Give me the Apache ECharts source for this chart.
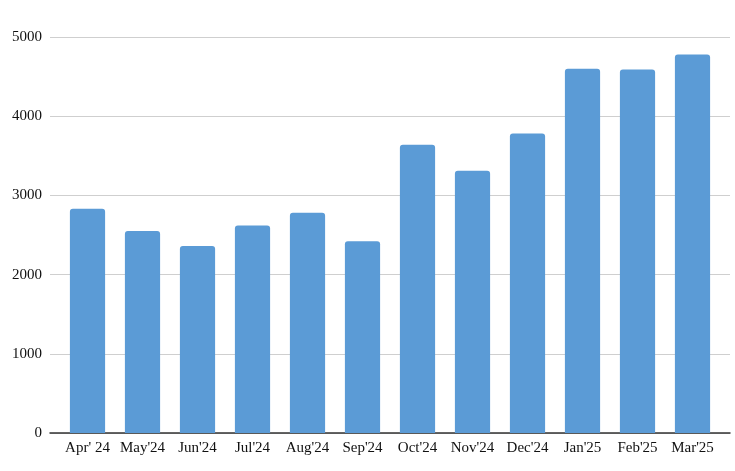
<!DOCTYPE html>
<html>
<head>
<meta charset="utf-8">
<script src="https://cdn.jsdelivr.net/npm/echarts@6/dist/echarts.min.js"></script>
<style>html,body{margin:0;padding:0;background:#fff}#c{width:735px;height:471px}</style>
</head>
<body>
<div id="c"></div>
<script>
const categories = ["Apr' 24","May'24","Jun'24","Jul'24","Aug'24","Sep'24","Oct'24","Nov'24","Dec'24","Jan'25","Feb'25","Mar'25"];
const values = [2830,2550,2360,2620,2780,2420,3640,3310,3780,4600,4590,4780];
const yTicks = [0,1000,2000,3000,4000,5000];

const font = 'Liberation Serif';
const chart = echarts.init(document.getElementById('c'));
chart.setOption({
  animation: false,
  grid: [
    {left: 50, right: 5, top: 37, bottom: 38},
    {left: 60, right: 15, top: 37, bottom: 38}
  ],
  xAxis: [{
    gridIndex: 0,
    type: 'category',
    data: [''],
    axisLine: {lineStyle: {color: '#333', width: 1.5}},
    axisTick: {show: false},
    axisLabel: {show: false},
    splitLine: {show: false}
  }, {
    gridIndex: 1,
    type: 'category',
    data: categories,
    axisLine: {show: false},
    axisTick: {show: false},
    axisLabel: {color: '#111', fontFamily: font, fontSize: 15, margin: 8, interval: 0, hideOverlap: false}
  }],
  yAxis: [{
    gridIndex: 0,
    type: 'value',
    min: yTicks[0],
    max: yTicks[yTicks.length-1],
    interval: 1000,
    axisLine: {show: false},
    axisTick: {show: false},
    axisLabel: {color: '#111', fontFamily: font, fontSize: 15, margin: 8, formatter: v => String(v)},
    splitLine: {lineStyle: {color: '#cfcfcf', width: 1}}
  }, {
    gridIndex: 1,
    type: 'value',
    min: yTicks[0],
    max: yTicks[yTicks.length-1],
    interval: 1000,
    show: false,
    splitLine: {show: false}
  }],
  series: [{
    type: 'bar',
    xAxisIndex: 1,
    yAxisIndex: 1,
    data: values,
    barWidth: '64%',
    itemStyle: {color: '#5b9bd6', borderRadius: [3,3,0,0]}
  }]
});
</script>
</body>
</html>
